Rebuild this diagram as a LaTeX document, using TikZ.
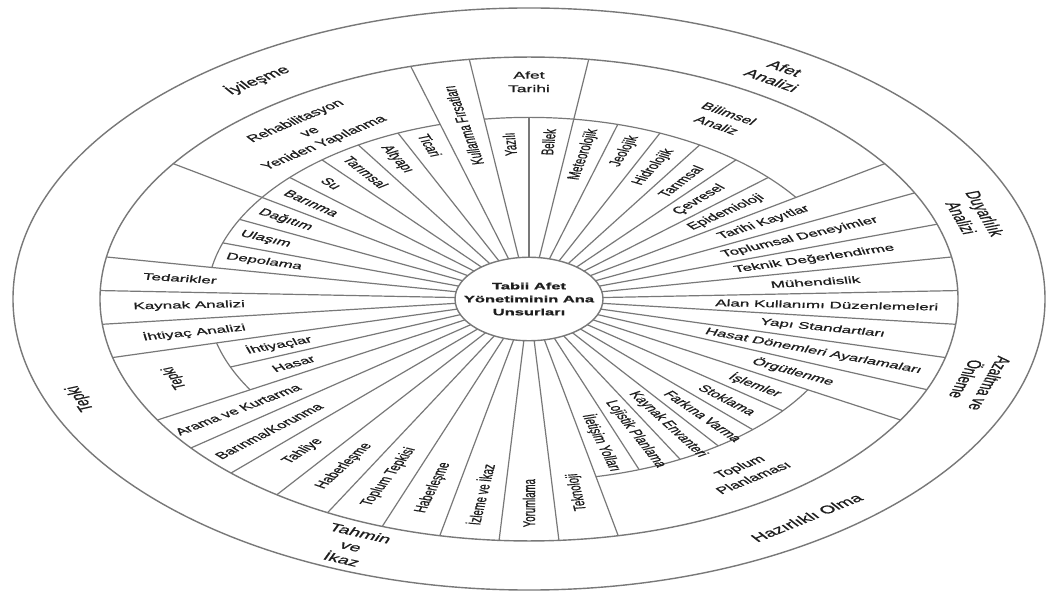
\documentclass[tikz,border=0pt]{standalone}
\usepackage{fontspec}
\setmainfont{Liberation Sans}[FakeBold=0.7]
\definecolor{linec}{RGB}{120,120,120}
\definecolor{txtc}{RGB}{30,30,30}
\newcommand\smallfnt{\fontsize{17}{23}\selectfont}
\newcommand\grpfnt{\fontsize{17.5}{24}\selectfont}
\newcommand\outfnt{\fontsize{20}{25}\selectfont}
\newcommand\ctrfnt{\fontsize{16.5}{23}\selectfont\bfseries}
\begin{document}
\begin{tikzpicture}[x=1pt,y=1pt,
  ring/.style={draw=linec, line width=1.4pt},
  spoke/.style={draw=linec, line width=1.2pt},
  lbl/.style={font=\smallfnt, text=txtc, inner sep=0pt, transform shape},
  grp/.style={font=\grpfnt, text=txtc, inner sep=0pt, transform shape, align=center},
  outl/.style={font=\outfnt, text=txtc, inner sep=0pt, transform shape, align=center},
  ]
\useasboundingbox (0,0) rectangle (1049,595);
\fill[white] (0,0) rectangle (1049,595);
\begin{scope}[shift={(529,296)}, yscale=0.564]
  % rings
  \draw[ring] (0,0) circle[radius=516];
  \draw[ring] (0,0) circle[radius=429];
  % spokes reaching the middle ring
  \foreach \a in {2,10,18,26,34,82,98,106,146,170,178,186,194,210,218,226,234,242,250,258,266,274,282,330,338,346,354}
    \draw[spoke] (\a:74) -- (\a:429);
  % spokes ending at the inner arcs
  \foreach \a in {42,50,58,66,74,90,114,122,130,138,154,162,202,290,298,306,314,322}
    \draw[spoke] (\a:74) -- (\a:322);
  % inner arcs
  \draw[spoke] (34:322) arc[start angle=34, end angle=98, radius=322];
  \draw[spoke] (106:322) arc[start angle=106, end angle=170, radius=322];
  \draw[spoke] (194:322) arc[start angle=194, end angle=210, radius=322];
  \draw[spoke] (282:322) arc[start angle=282, end angle=330, radius=322];
  % centre
  \draw[ring, fill=white] (0,0) circle[radius=74];
  \node[font=\ctrfnt, text=txtc, inner sep=0pt, transform shape, align=center] (ctr) at (0,0) {Tabii Afet\\Yönetiminin Ana\\Unsurları};

  % wedge labels, right half (reading outward)
  \node[lbl, rotate=-2] (w01) at (-2:298) {Alan Kullanımı Düzenlemeleri};
  \node[lbl, rotate=6] (w02) at (6:288) {Mühendislik};
  \node[lbl, rotate=14] (w03) at (14:294) {Teknik Değerlendirme};
  \node[lbl, rotate=22] (w04) at (22:292) {Toplumsal Deneyimler};
  \node[lbl, rotate=30] (w05) at (30:271) {Tarihi Kayıtlar};
  \node[lbl, rotate=38] (w06) at (38:250) {Epidemioloji};
  \node[lbl, rotate=46] (w07) at (46:245) {Çevresel};
  \node[lbl, rotate=54] (w08) at (54:258) {Tarımsal};
  \node[lbl, rotate=62] (w09) at (62:265) {Hidrolojik};
  \node[lbl, rotate=70] (w10) at (70:279) {Jeolojik};
  \node[lbl, rotate=78] (w11) at (78:262) {Meteorolojik};
  \node[lbl, rotate=86] (w12) at (86:279) {Bellek};
  \node[lbl, rotate=94] (w13) at (94:275) {Yazılı};
  \node[lbl, rotate=102] (w14) at (102:315) {Kullanma Fırsatları};
  % left half (reading inward)
  \node[lbl, rotate=-70] (w15) at (110:290) {Ticari};
  \node[lbl, rotate=-62] (w16) at (118:281) {Altyapı};
  \node[lbl, rotate=-54] (w17) at (126:278) {Tarımsal};
  \node[lbl, rotate=-46] (w18) at (134:285) {Su};
  \node[lbl, rotate=-38] (w19) at (142:276) {Barınma};
  \node[lbl, rotate=-30] (w20) at (150:281) {Dağıtım};
  \node[lbl, rotate=-22] (w21) at (158:284) {Ulaşım};
  \node[lbl, rotate=-14] (w22) at (166:273) {Depolama};
  \node[lbl, rotate=-6] (w23) at (174:351) {Tedarikler};
  \node[lbl, rotate=2] (w24) at (182:340) {Kaynak Analizi};
  \node[lbl, rotate=10] (w25) at (190:340) {İhtiyaç Analizi};
  \node[lbl, rotate=18] (w26) at (198:263) {İhtiyaçlar};
  \node[lbl, rotate=26] (w27) at (206:262) {Hasar};
  \node[lbl, rotate=34] (w28) at (214:351) {Arama ve Kurtarma};
  \node[lbl, rotate=42] (w29) at (222:350) {Barınma/Korunma};
  \node[lbl, rotate=50] (w30) at (230:352) {Tahliye};
  \node[lbl, rotate=58] (w31) at (238:349) {Haberleşme};
  \node[lbl, rotate=66] (w32) at (246:345) {Toplum Tepkisi};
  \node[lbl, rotate=74] (w33) at (254:348) {Haberleşme};
  \node[lbl, rotate=82] (w34) at (262:350) {İzleme ve İkaz};
  \node[lbl, rotate=90] (w35) at (270:362) {Yorumlama};
  \node[lbl, rotate=98] (w36) at (278:346) {Teknoloji};
  % lower right (reading outward)
  \node[lbl, rotate=-74] (w37) at (286:265) {İletişim Yolları};
  \node[lbl, rotate=-66] (w38) at (294:262) {Lojistik Planlama};
  \node[lbl, rotate=-58] (w39) at (302:262) {Kaynak Envanteri};
  \node[lbl, rotate=-50] (w40) at (310:271) {Farkına Varma};
  \node[lbl, rotate=-42] (w41) at (318:267) {Stoklama};
  \node[lbl, rotate=-34] (w42) at (326:273) {İşlemler};
  \node[lbl, rotate=-26] (w43) at (334:294) {Örgütlenme};
  \node[lbl, rotate=-18] (w44) at (342:299) {Hasat Dönemleri Ayarlamaları};
  \node[lbl, rotate=-10] (w45) at (350:298) {Yapı Standartları};

  % group boxes
  \node[grp] (gAT) at (90:385) {Afet\\Tarihi};
  \node[grp, rotate=-31.3] (gBA) at (58.7:373) {Bilimsel\\Analiz};
  \node[grp, rotate=36.5] (gRY) at (126.5:368) {Rehabilitasyon\\ve\\Yeniden Yapılanma};
  \node[grp, rotate=111.6] (gTe) at (201.6:381) {Tepki};
  \node[grp, rotate=35.3] (gTP) at (305.3:376) {Toplum\\Planlaması};

  % outer band
  \node[outl, rotate=35] (oIy) at (125:474) {İyileşme};
  \node[outl, rotate=-32] (oAA) at (58:470) {Afet\\Analizi};
  \node[outl, rotate=-71.6] (oDA) at (18.4:468) {Duyarlılık\\Analizi};
  \node[outl, rotate=-108] (oAO) at (-18:472) {Azaltma ve\\Önleme};
  \node[outl, rotate=35.6] (oHO) at (-54.4:477) {Hazırlıklı Olma};
  \node[outl, rotate=-22.1] (oTI) at (247.9:473) {Tahmin\\ve\\İkaz};
  \node[outl, rotate=111.5] (oTe) at (201.5:482) {Tepki};
\end{scope}
\end{tikzpicture}
\end{document}
